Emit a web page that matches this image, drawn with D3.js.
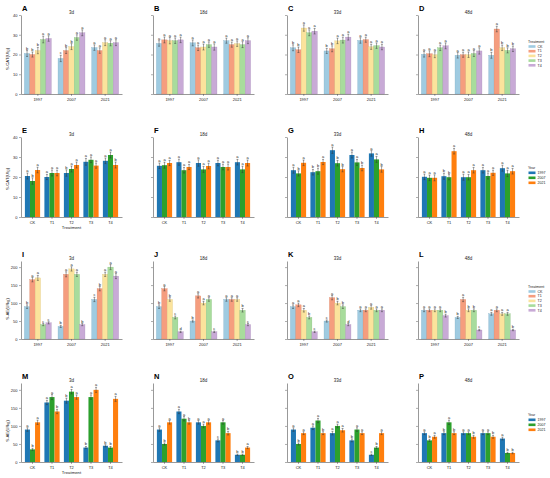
<!DOCTYPE html>
<html>
<head>
<meta charset="utf-8">
<script src="https://cdn.jsdelivr.net/npm/d3@7"></script>
<style>
body { margin: 0; background: #fff; }
text { font-family: "Liberation Sans", Arial, sans-serif; fill: #222; }
</style>
</head>
<body>
<div id="chart"></div>
<script>
// categories
var years = ["1997", "2007", "2021"];
var treatments = ["CK", "T1", "T2", "T3", "T4"];
var days = ["3d", "18d", "33d", "48d"];
var panelLetters = ["ABCD", "EFGH", "IJKL", "MNOP"];

// S-CAT means [day][treatment][year]
var catMean = [
    [[20.5, 18, 23.5], [20, 22, 22], [22, 24, 26], [27.6, 28.6, 25.7], [28.1, 31, 26]],
    [[25.6, 25.9, 27], [27.4, 23.4, 25], [27, 23.8, 25.5], [27, 25, 25], [27.4, 23.8, 27]],
    [[23.4, 21.8, 27.1], [22.4, 22.9, 27.5], [33.4, 26.9, 23.9], [31, 27.3, 24.5], [31.8, 28.8, 23.8]],
    [[20.1, 19.6, 19.6], [20.4, 19.9, 32.9], [19.9, 19.9, 23.4], [23.4, 20.5, 22.1], [24.4, 21.8, 22.9]]
];
var catErr = [
    [[1.5, 1.6, 1.4], [1.3, 1.5, 1.4], [1.6, 1.5, 1.5], [1.7, 1.4, 1.3], [1.4, 1.5, 1.5]],
    [[1.4, 1.5, 1.3], [1.5, 1.4, 1.3], [1.6, 1.5, 1.4], [1.4, 1.4, 1.5], [1.4, 1.6, 1.5]],
    [[1.5, 1.3, 1.4], [1.4, 1.5, 1.3], [1.6, 1.4, 1.3], [1.5, 1.5, 1.4], [1.4, 1.5, 1.4]],
    [[1.4, 1.4, 1.5], [1.5, 1.3, 1.4], [1.5, 1.4, 1.4], [1.4, 1.5, 1.3], [1.5, 1.6, 1.4]]
];
// S-AE means [day][treatment][year]
var aeMean = [
    [[90, 35, 110], [165, 180, 140], [170, 195, 180], [40, 180, 200], [45, 40, 175]],
    [[90, 50, 110], [140, 120, 110], [110, 100, 110], [60, 110, 80], [20, 20, 40]],
    [[90, 50, 80], [95, 115, 80], [80, 100, 88], [60, 90, 80], [20, 40, 80]],
    [[80, 60, 70], [80, 110, 80], [80, 80, 70], [80, 80, 70], [65, 25, 25]]
];
var aeErr = [
    [[5, 3, 6], [6, 7, 6], [7, 6, 6], [3, 6, 7], [3, 3, 7]],
    [[5, 3, 5], [6, 6, 5], [5, 5, 5], [4, 5, 5], [2, 2, 3]],
    [[5, 3, 4], [5, 6, 4], [5, 5, 5], [4, 5, 4], [2, 3, 4]],
    [[4, 3, 4], [4, 6, 4], [4, 4, 4], [4, 4, 4], [4, 2, 2]]
];

// significance letters, grouped by year [day][year][treatment]
var catLetYear = [
    [["b", "b", "b", "a", "a"], ["c", "b", "b", "a", "a"], ["a", "a", "a", "a", "a"]],
    [["a", "a", "a", "a", "a"], ["a", "a", "a", "a", "a"], ["a", "a", "a", "a", "a"]],
    [["b", "b", "a", "a", "a"], ["b", "b", "a", "a", "a"], ["a", "a", "a", "a", "a"]],
    [["a", "a", "a", "a", "a"], ["a", "a", "a", "a", "a"], ["b", "a", "b", "b", "b"]]
];
var aeLetYear = [
    [["b", "a", "a", "c", "c"], ["b", "a", "a", "a", "b"], ["c", "b", "a", "a", "a"]],
    [["b", "a", "b", "c", "d"], ["b", "a", "a", "a", "c"], ["a", "a", "a", "b", "c"]],
    [["a", "a", "a", "b", "c"], ["c", "a", "b", "b", "d"], ["a", "a", "a", "a", "a"]],
    [["a", "a", "a", "a", "b"], ["b", "a", "b", "b", "c"], ["a", "a", "a", "a", "b"]]
];
// significance letters, grouped by treatment [day][treatment][year]
var catLetTrt = [
    [["a", "b", "a"], ["a", "a", "a"], ["b", "a", "a"], ["a", "a", "a"], ["a", "a", "b"]],
    [["a", "a", "a"], ["a", "a", "a"], ["a", "a", "a"], ["a", "a", "a"], ["a", "a", "a"]],
    [["a", "b", "a"], ["b", "b", "a"], ["a", "b", "b"], ["a", "a", "b"], ["a", "a", "b"]],
    [["a", "a", "a"], ["b", "b", "a"], ["a", "a", "a"], ["a", "a", "a"], ["a", "a", "a"]]
];
var aeLetTrt = [
    [["a", "b", "a"], ["a", "a", "b"], ["b", "a", "a"], ["b", "a", "a"], ["b", "b", "a"]],
    [["a", "b", "a"], ["a", "a", "b"], ["a", "a", "a"], ["c", "a", "b"], ["b", "b", "a"]],
    [["a", "b", "a"], ["a", "a", "b"], ["a", "a", "a"], ["b", "a", "a"], ["c", "b", "a"]],
    [["a", "b", "a"], ["b", "a", "b"], ["a", "a", "b"], ["a", "a", "b"], ["a", "b", "b"]]
];

var catTicks = [0, 10, 20, 30, 40];
var aeTicks = [0, 50, 100, 150, 200];

var trtColors = ["#9fcbe1", "#f59d7e", "#fbe39c", "#a8dc9c", "#c8aad6"];
var trtEdges = ["#7aa9c2", "#d77e60", "#d9c27c", "#86bb7c", "#a78ab6"];
var yearColors = ["#1f77b4", "#2ca02c", "#ff7f0e"];

var W = 550, H = 478;
var colX = [21, 153, 287, 418];
var panelW = 101;
var rows = [
    { top: 15, bottom: 94, yMax: 40, ticks: catTicks, byYear: true, mean: catMean, err: catErr, lets: catLetYear, yTitle: "S-CAT(U/g)", yTitleY: 59, legendY: 43 },
    { top: 137, bottom: 217, yMax: 40, ticks: catTicks, byYear: false, mean: catMean, err: catErr, lets: catLetTrt, yTitle: "S-CAT(U/g)", yTitleY: 179, legendY: 169 },
    { top: 261, bottom: 339, yMax: 217, ticks: aeTicks, byYear: true, mean: aeMean, err: aeErr, lets: aeLetYear, yTitle: "S-AE(U/kg)", yTitleY: 309, legendY: 288 },
    { top: 383, bottom: 462, yMax: 219, ticks: aeTicks, byYear: false, mean: aeMean, err: aeErr, lets: aeLetTrt, yTitle: "S-AE(U/kg)", yTitleY: 431, legendY: 416 }
];

var svg = d3.select("#chart").append("svg")
    .attr("width", W)
    .attr("height", H);

rows.forEach(function(row, ri) {
    days.forEach(function(day, di) {
        drawPanel(row, ri, di);
    });
    drawLegend(row);
});

function drawPanel(row, ri, di) {
    var left = colX[di];
    var groups = row.byYear ? years : treatments;
    var subs = row.byYear ? treatments : years;

    var x = d3.scaleBand()
        .domain(groups)
        .range([left, left + panelW])
        .paddingInner(row.byYear ? 0.2 : 0.22)
        .paddingOuter(row.byYear ? 0.1 : 0.2);
    var xs = d3.scaleBand()
        .domain(subs)
        .range([0, x.bandwidth()]);
    var y = d3.scaleLinear()
        .domain([0, row.yMax])
        .range([row.bottom, row.top]);

    var bars = [];
    groups.forEach(function(g, gi) {
        subs.forEach(function(s, si) {
            var t = row.byYear ? si : gi;
            var yr = row.byYear ? gi : si;
            bars.push({
                group: g, sub: s, ci: si,
                value: row.mean[di][t][yr],
                err: row.err[di][t][yr],
                letter: row.byYear ? row.lets[di][yr][t] : row.lets[di][t][yr]
            });
        });
    });

    var g = svg.append("g");

    g.selectAll("rect.bar").data(bars).enter().append("rect")
        .attr("class", "bar")
        .attr("x", function(d) { return x(d.group) + xs(d.sub); })
        .attr("y", function(d) { return y(d.value); })
        .attr("width", xs.bandwidth())
        .attr("height", function(d) { return y(0) - y(d.value); })
        .style("fill", function(d) { return row.byYear ? trtColors[d.ci] : yearColors[d.ci]; })
        .style("stroke", function(d) { return row.byYear ? trtEdges[d.ci] : "none"; })
        .style("stroke-width", 0.3);

    var cx = function(d) { return x(d.group) + xs(d.sub) + xs.bandwidth() / 2; };

    g.selectAll("line.err").data(bars).enter().append("line")
        .attr("class", "err")
        .attr("x1", cx).attr("x2", cx)
        .attr("y1", function(d) { return y(d.value - d.err); })
        .attr("y2", function(d) { return y(d.value + d.err); })
        .style("stroke", "#333").style("stroke-width", 0.45);
    g.selectAll("line.cap").data(bars).enter().append("line")
        .attr("class", "cap")
        .attr("x1", function(d) { return cx(d) - 1; })
        .attr("x2", function(d) { return cx(d) + 1; })
        .attr("y1", function(d) { return y(d.value + d.err); })
        .attr("y2", function(d) { return y(d.value + d.err); })
        .style("stroke", "#333").style("stroke-width", 0.45);
    g.selectAll("line.capb").data(bars).enter().append("line")
        .attr("class", "capb")
        .attr("x1", function(d) { return cx(d) - 1; })
        .attr("x2", function(d) { return cx(d) + 1; })
        .attr("y1", function(d) { return y(d.value - d.err); })
        .attr("y2", function(d) { return y(d.value - d.err); })
        .style("stroke", "#333").style("stroke-width", 0.45);

    g.selectAll("text.sig").data(bars).enter().append("text")
        .attr("class", "sig")
        .attr("x", cx)
        .attr("y", function(d) { return y(d.value + d.err) - 1; })
        .attr("text-anchor", "middle")
        .style("font-size", "4px")
        .text(function(d) { return d.letter; });

    // axes
    var yAxis = d3.axisLeft(y)
        .tickValues(row.ticks)
        .tickSize(2)
        .tickPadding(1.5)
        .tickSizeOuter(0);
    if (di > 0) yAxis.tickFormat("");
    var ya = g.append("g")
        .attr("transform", "translate(" + left + ",0)")
        .call(yAxis);

    var xAxis = d3.axisBottom(x)
        .tickSize(2)
        .tickPadding(2.5)
        .tickSizeOuter(0);
    var xa = g.append("g")
        .attr("transform", "translate(0," + row.bottom + ")")
        .call(xAxis);

    [ya, xa].forEach(function(a) {
        a.select(".domain").style("stroke", "#333").style("stroke-width", 0.5);
        a.selectAll(".tick line").style("stroke", "#333").style("stroke-width", 0.4);
        a.selectAll(".tick text").style("font-size", "4px").style("fill", "#222");
    });

    // panel letter and title
    g.append("text")
        .attr("x", left + 1)
        .attr("y", row.top - 4.5)
        .style("font-size", "7.5px")
        .style("font-weight", "bold")
        .style("fill", "#000")
        .text(panelLetters[ri][di]);
    g.append("text")
        .attr("x", left + panelW / 2)
        .attr("y", row.top - 1.5)
        .attr("text-anchor", "middle")
        .style("font-size", "4.5px")
        .text(days[di]);

    if (di === 0) {
        g.append("text")
            .attr("transform", "translate(9," + row.yTitleY + ") rotate(-90)")
            .attr("text-anchor", "middle")
            .style("font-size", "4.3px")
            .text(row.yTitle);
        if (!row.byYear) {
            g.append("text")
                .attr("x", left + panelW / 2)
                .attr("y", row.bottom + 12)
                .attr("text-anchor", "middle")
                .style("font-size", "4.3px")
                .text("Treatment");
        }
    }
}

function drawLegend(row) {
    var keys = row.byYear ? treatments : years;
    var colors = row.byYear ? trtColors : yearColors;
    var step = row.byYear ? 4.7 : 5;
    var lg = svg.append("g").attr("transform", "translate(528," + row.legendY + ")");
    lg.append("text")
        .attr("x", 0).attr("y", 0)
        .style("font-size", "3.6px")
        .text(row.byYear ? "Treatment" : "Year");
    keys.forEach(function(k, i) {
        lg.append("rect")
            .attr("x", 0.5)
            .attr("y", (i + 1) * step - 2.5)
            .attr("width", 7)
            .attr("height", 2.6)
            .style("fill", colors[i]);
        lg.append("text")
            .attr("x", 9.5)
            .attr("y", (i + 1) * step)
            .style("font-size", "3.6px")
            .text(k);
    });
}
</script>
</body>
</html>
